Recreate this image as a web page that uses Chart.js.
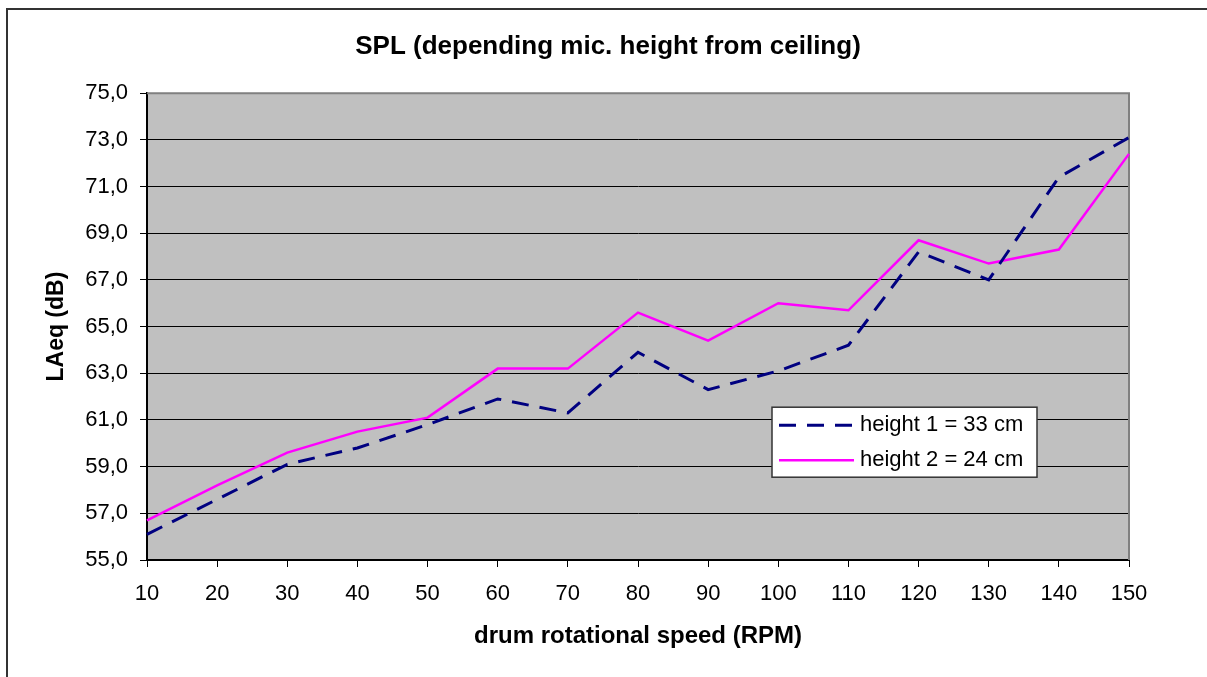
<!DOCTYPE html>
<html>
<head>
<meta charset="utf-8">
<title>SPL (depending mic. height from ceiling)</title>
<script src="https://cdn.jsdelivr.net/npm/chart.js@4"></script>
<style>
  html, body { margin: 0; padding: 0; background: #ffffff; }
  #wrap { width: 1207px; height: 677px; }
</style>
</head>
<body>
<div id="wrap"><canvas id="splChart" width="1207" height="677"></canvas></div>
<script>
// ============================
// DATA
// ============================

const speedLabels = ["10", "20", "30", "40", "50", "60", "70", "80", "90", "100", "110", "120", "130", "140", "150"];

const height1Values = [56.1, 57.6, 59.1, 59.8, 60.8, 61.9, 61.3, 63.9, 62.3, 63.1, 64.2, 68.2, 67.0, 71.4, 73.1];

const height2Values = [56.7, 58.2, 59.6, 60.5, 61.1, 63.2, 63.2, 65.6, 64.4, 66.0, 65.7, 68.7, 67.7, 68.3, 72.4];

const seriesNames = ["height 1 = 33 cm", "height 2 = 24 cm"];

const yMin = 55;
const yMax = 75;
const yStep = 2;

const FONT = "'Liberation Sans', Arial, Helvetica, sans-serif";

// ============================
// PLUGINS
// ============================

// grey plot background + outer frame
const frame = {
    id: "frame",
    afterLayout(chart) {
        // centre the title on the whole frame, not only the plot
        if (chart.titleBlock) {
            chart.titleBlock.left = 9;
            chart.titleBlock.right = chart.width;
        }
    },
    beforeDraw(chart) {
        const { ctx, chartArea: a } = chart;
        ctx.save();
        ctx.fillStyle = "#ffffff";
        ctx.fillRect(0, 0, chart.width, chart.height);
        ctx.strokeStyle = "#333333";
        ctx.lineWidth = 2;
        ctx.strokeRect(7, 9, chart.width + 50, chart.height + 50);
        ctx.fillStyle = "#c0c0c0";
        ctx.fillRect(a.left, a.top, a.right - a.left, a.bottom - a.top);
        ctx.restore();
    },
    beforeDatasetsDraw(chart) {
        // top and right edge of the plot area are grey
        const { ctx, chartArea: a } = chart;
        ctx.save();
        ctx.strokeStyle = "#808080";
        ctx.lineWidth = 2;
        ctx.beginPath();
        ctx.moveTo(a.left, a.top);
        ctx.lineTo(a.right, a.top);
        ctx.lineTo(a.right, a.bottom);
        ctx.stroke();
        ctx.restore();
    }
};

// boxed legend sitting inside the plot
const boxLegend = {
    id: "boxLegend",
    afterDatasetsDraw(chart) {
        const { ctx, chartArea: a } = chart;
        const x = a.left + 625;
        const y = a.top + 314;
        const w = 265;
        const h = 70;

        ctx.save();
        ctx.fillStyle = "#ffffff";
        ctx.fillRect(x, y, w, h);
        ctx.strokeStyle = "#333333";
        ctx.lineWidth = 1.5;
        ctx.strokeRect(x, y, w, h);

        chart.data.datasets.forEach((ds, i) => {
            const rowY = y + 18 + i * 35;
            ctx.strokeStyle = ds.borderColor;
            ctx.lineWidth = ds.borderWidth;
            ctx.setLineDash(ds.borderDash || []);
            ctx.beginPath();
            ctx.moveTo(x + 7, rowY);
            ctx.lineTo(x + 82, rowY);
            ctx.stroke();
            ctx.setLineDash([]);

            ctx.fillStyle = "#000000";
            ctx.font = "22px " + FONT;
            ctx.textBaseline = "middle";
            ctx.textAlign = "left";
            ctx.fillText(ds.label, x + 88, rowY);
        });
        ctx.restore();
    }
};

// ============================
// CHART
// ============================

new Chart(document.getElementById("splChart"), {

    type: "line",

    data: {
        labels: speedLabels,
        datasets: [
            {
                label: seriesNames[0],
                data: height1Values,
                borderColor: "#000080",
                borderWidth: 3,
                borderDash: [17, 11],
                pointRadius: 0,
                tension: 0,
                fill: false
            },
            {
                label: seriesNames[1],
                data: height2Values,
                borderColor: "#ff00ff",
                borderWidth: 2.5,
                pointRadius: 0,
                tension: 0,
                fill: false
            }
        ]
    },

    options: {
        responsive: false,
        animation: false,
        layout: {
            padding: { left: 0, right: 78, top: 0, bottom: 0 }
        },
        plugins: {
            legend: { display: false },
            tooltip: { enabled: false },
            title: {
                display: true,
                text: "SPL (depending mic. height from ceiling)",
                color: "#000000",
                font: { family: FONT, size: 26, weight: "bold", lineHeight: 1.2 },
                padding: { top: 31, bottom: 31 }
            }
        },
        scales: {
            x: {
                type: "category",
                offset: false,
                afterFit(scale) { scale.height = 117; },
                grid: {
                    drawOnChartArea: false,
                    drawTicks: true,
                    tickLength: 7,
                    color: "#000000"
                },
                border: { color: "#000000", width: 2 },
                ticks: {
                    color: "#000000",
                    padding: 14,
                    maxRotation: 0,
                    autoSkip: false,
                    font: { family: FONT, size: 22 }
                },
                title: {
                    display: true,
                    text: "drum rotational speed (RPM)",
                    color: "#000000",
                    font: { family: FONT, size: 24, weight: "bold", lineHeight: 1.2 },
                    padding: { top: 0, bottom: 26 }
                }
            },
            y: {
                min: yMin,
                max: yMax,
                afterFit(scale) { scale.width = 147; },
                grid: {
                    color: "#000000",
                    lineWidth: 1,
                    drawTicks: true,
                    tickLength: 7
                },
                border: { color: "#000000", width: 2 },
                ticks: {
                    stepSize: yStep,
                    color: "#000000",
                    padding: 12,
                    font: { family: FONT, size: 22 },
                    callback: value => value.toFixed(1).replace(".", ",")
                },
                title: {
                    display: true,
                    text: "LAeq (dB)",
                    color: "#000000",
                    font: { family: FONT, size: 23, weight: "bold", lineHeight: 1.2 },
                    padding: { top: 43, bottom: 0 }
                }
            }
        }
    },

    plugins: [frame, boxLegend]

});
</script>
</body>
</html>
